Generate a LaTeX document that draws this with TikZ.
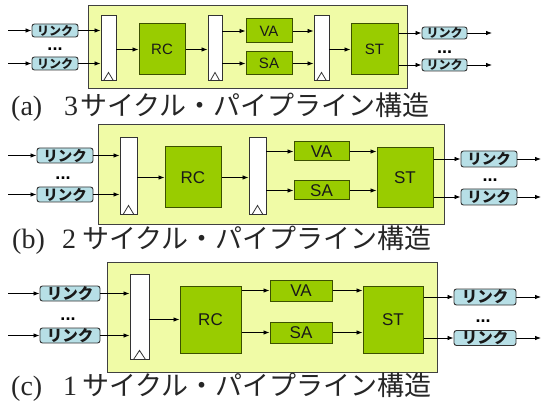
\documentclass[tikz,border=0pt]{standalone}
\usepackage{fontspec}
\setmainfont{Liberation Serif}
\newfontfamily\jp{Noto Sans CJK JP}
\newfontfamily\arialf{Liberation Sans}
\usetikzlibrary{arrows.meta,calc}
\definecolor{panelyel}{RGB}{240,251,166}
\definecolor{boxgreen}{RGB}{153,204,0}
\definecolor{greenedge}{RGB}{60,80,0}
\definecolor{linkblue}{RGB}{183,223,230}
\newcommand\clocktri[2]{\draw[clk] ($(#1.south west)!0.2!(#1.south east)$) -- ($(#1.south)+(0,-#2)$) -- ($(#1.south west)!0.8!(#1.south east)$);}
\tikzset{
  panel/.style={draw=black!75, fill=panelyel, line width=1pt, inner sep=0pt},
  greenbox/.style={draw=greenedge, fill=boxgreen, line width=1pt, inner sep=0pt, text=black!90},
  regbox/.style={draw=black!80, fill=white, line width=0.9pt, inner sep=0pt},
  linkbox/.style={draw=black!80, fill=linkblue, line width=0.9pt, rounded corners=2.5pt, inner sep=0pt, text=black!90},
  dotsn/.style={inner sep=0pt, text height=3pt, text depth=0pt, font=\arialf\bfseries\fontsize{18}{18}\selectfont},
  clk/.style={draw=black!80, line width=0.8pt},
  arr/.style={-{Latex[length=6pt,width=4.5pt]}, line width=0.8pt},
  capt/.style={anchor=base west, inner sep=0pt, text=black!85},
}
\begin{document}
\begin{tikzpicture}[x=1pt,y=-1pt]
\useasboundingbox (0,0) rectangle (543,403);
% ---------------- panel (a)
\node[panel, minimum width=319pt, minimum height=83pt] (pa) at (247.5,47.5) {};
\begin{scope}
\tikzset{lk/.style={linkbox, font=\jp\bfseries\fontsize{12}{12}\selectfont}, gb/.style={greenbox, font=\arialf\fontsize{15}{15}\selectfont}}
\node[lk, minimum width=46pt, minimum height=13pt] (ai1) at (55,30.5) {リンク};
\node[lk, minimum width=46pt, minimum height=13pt] (ai2) at (55,63.5) {リンク};
\node[dotsn] (aid) at (55,49) {...};
\node[regbox, minimum width=15pt, minimum height=65pt] (ar1) at (108.5,47.5) {};
\node[gb, minimum width=46pt, minimum height=51pt] (arc) at (162,49.5) {RC};
\node[regbox, minimum width=14pt, minimum height=65pt] (ar2) at (215,47.5) {};
\node[gb, minimum width=46pt, minimum height=24pt] (ava) at (269,31) {VA};
\node[gb, minimum width=46pt, minimum height=23pt] (asa) at (269,63.5) {SA};
\node[regbox, minimum width=15pt, minimum height=65pt] (ar3) at (321.5,47.5) {};
\node[gb, minimum width=47pt, minimum height=51pt] (ast) at (374.5,49.5) {ST};
\node[lk, minimum width=45pt, minimum height=12pt] (ao1) at (444.5,33) {リンク};
\node[lk, minimum width=45pt, minimum height=12pt] (ao2) at (444.5,65) {リンク};
\node[dotsn] (aod) at (444.5,52) {...};
\end{scope}
\clocktri{ar1}{8}\clocktri{ar2}{8}\clocktri{ar3}{8}
\coordinate (ain1) at (8,30.5);
\coordinate (ain2) at (8,63.5);
\coordinate (aout1) at (492,33);
\coordinate (aout2) at (492,65);
\draw[arr] (ain1) -- (ai1.west);
\draw[arr] (ain2) -- (ai2.west);
\draw[arr] (ai1.east) -- (ar1.west |- ai1.east);
\draw[arr] (ai2.east) -- (ar1.west |- ai2.east);
\draw[arr] (ar1.east |- arc.west) -- (arc.west);
\draw[arr] (arc.east) -- (ar2.west |- arc.east);
\draw[arr] (ar2.east |- ava.west) -- (ava.west);
\draw[arr] (ar2.east |- asa.west) -- (asa.west);
\draw[arr] (ava.east) -- (ar3.west |- ava.east);
\draw[arr] (asa.east) -- (ar3.west |- asa.east);
\draw[arr] (ar3.east |- ast.west) -- (ast.west);
\draw[arr] (ast.east |- ao1.west) -- (ao1.west);
\draw[arr] (ast.east |- ao2.west) -- (ao2.west);
\draw[arr] (ao1.east) -- (aout1);
\draw[arr] (ao2.east) -- (aout2);
\node[capt, font=\fontsize{28}{28}\selectfont] (capa1) at (11,116) {(a)};
\node[capt, font=\fontsize{28}{28}\selectfont] (capa2) at (64,116) {3};
\node[capt, font=\jp\fontsize{27}{27}\selectfont] (capa3) at (80,116) {サイクル・パイプライン構造};
% ---------------- panel (b)
\node[panel, minimum width=346pt, minimum height=100pt] (pb) at (271,175) {};
\begin{scope}
\tikzset{lk/.style={linkbox, font=\jp\bfseries\fontsize{14.5}{14.5}\selectfont}, gb/.style={greenbox, font=\arialf\fontsize{17}{17}\selectfont}}
\node[lk, minimum width=56pt, minimum height=15pt] (bi1) at (65,155.5) {リンク};
\node[lk, minimum width=56pt, minimum height=15pt] (bi2) at (65,194.5) {リンク};
\node[dotsn] (bid) at (63,178) {...};
\node[regbox, minimum width=17pt, minimum height=77pt] (br1) at (128.5,175.5) {};
\node[gb, minimum width=56pt, minimum height=61pt] (brc) at (193,177.5) {RC};
\node[regbox, minimum width=17pt, minimum height=77pt] (br2) at (257.5,175.5) {};
\node[gb, minimum width=55pt, minimum height=19pt] (bva) at (321.5,151.5) {VA};
\node[gb, minimum width=55pt, minimum height=19pt] (bsa) at (321.5,190.5) {SA};
\node[gb, minimum width=56pt, minimum height=60pt] (bst) at (405,178) {ST};
\node[lk, minimum width=56pt, minimum height=16pt] (bo1) at (489,159) {リンク};
\node[lk, minimum width=56pt, minimum height=16pt] (bo2) at (489,197) {リンク};
\node[dotsn] (bod) at (490,180) {...};
\end{scope}
\clocktri{br1}{9}\clocktri{br2}{9}
\coordinate (bin1) at (8,155.5);
\coordinate (bin2) at (8,194.5);
\coordinate (bout1) at (541,159);
\coordinate (bout2) at (541,197);
\draw[arr] (bin1) -- (bi1.west);
\draw[arr] (bin2) -- (bi2.west);
\draw[arr] (bi1.east) -- (br1.west |- bi1.east);
\draw[arr] (bi2.east) -- (br1.west |- bi2.east);
\draw[arr] (br1.east |- brc.west) -- (brc.west);
\draw[arr] (brc.east) -- (br2.west |- brc.east);
\draw[arr] (br2.east |- bva.west) -- (bva.west);
\draw[arr] (br2.east |- bsa.west) -- (bsa.west);
\draw[arr] (bva.east) -- (bst.west |- bva.east);
\draw[arr] (bsa.east) -- (bst.west |- bsa.east);
\draw[arr] (bst.east |- bo1.west) -- (bo1.west);
\draw[arr] (bst.east |- bo2.west) -- (bo2.west);
\draw[arr] (bo1.east) -- (bout1);
\draw[arr] (bo2.east) -- (bout2);
\node[capt, font=\fontsize{28}{28}\selectfont] (capb1) at (12,249) {(b)};
\node[capt, font=\fontsize{28}{28}\selectfont] (capb2) at (62,249) {2};
\node[capt, font=\jp\fontsize{27}{27}\selectfont] (capb3) at (82,249) {サイクル・パイプライン構造};
% ---------------- panel (c)
\node[panel, minimum width=330pt, minimum height=110pt] (pc) at (272,317) {};
\begin{scope}
\tikzset{lk/.style={linkbox, font=\jp\bfseries\fontsize{15.5}{15.5}\selectfont}, gb/.style={greenbox, font=\arialf\fontsize{17}{17}\selectfont}}
\node[lk, minimum width=60pt, minimum height=15pt] (ci1) at (70,293.5) {リンク};
\node[lk, minimum width=60pt, minimum height=15pt] (ci2) at (70,335.5) {リンク};
\node[dotsn] (cid) at (68,319) {...};
\node[regbox, minimum width=19pt, minimum height=85pt] (cr1) at (139.5,316.5) {};
\node[gb, minimum width=61pt, minimum height=67pt] (crc) at (210.5,319.5) {RC};
\node[gb, minimum width=62pt, minimum height=21pt] (cva) at (301,290.5) {VA};
\node[gb, minimum width=62pt, minimum height=21pt] (csa) at (301,332.5) {SA};
\node[gb, minimum width=60pt, minimum height=67pt] (cst) at (393,319.5) {ST};
\node[lk, minimum width=62pt, minimum height=16pt] (co1) at (485,297) {リンク};
\node[lk, minimum width=62pt, minimum height=15pt] (co2) at (485,338) {リンク};
\node[dotsn] (cod) at (483,321) {...};
\end{scope}
\clocktri{cr1}{9}
\coordinate (cin1) at (8,293.5);
\coordinate (cin2) at (8,335.5);
\coordinate (cout1) at (541,297);
\coordinate (cout2) at (541,338);
\draw[arr] (cin1) -- (ci1.west);
\draw[arr] (cin2) -- (ci2.west);
\draw[arr] (ci1.east) -- (cr1.west |- ci1.east);
\draw[arr] (ci2.east) -- (cr1.west |- ci2.east);
\draw[arr] (cr1.east |- crc.west) -- (crc.west);
\draw[arr] (crc.east |- cva.west) -- (cva.west);
\draw[arr] (crc.east |- csa.west) -- (csa.west);
\draw[arr] (cva.east) -- (cst.west |- cva.east);
\draw[arr] (csa.east) -- (cst.west |- csa.east);
\draw[arr] (cst.east |- co1.west) -- (co1.west);
\draw[arr] (cst.east |- co2.west) -- (co2.west);
\draw[arr] (co1.east) -- (cout1);
\draw[arr] (co2.east) -- (cout2);
\node[capt, font=\fontsize{28}{28}\selectfont] (capc1) at (11,395) {(c)};
\node[capt, font=\fontsize{28}{28}\selectfont] (capc2) at (63,395) {1};
\node[capt, font=\jp\fontsize{27}{27}\selectfont] (capc3) at (82,395) {サイクル・パイプライン構造};
\end{tikzpicture}
\end{document}
